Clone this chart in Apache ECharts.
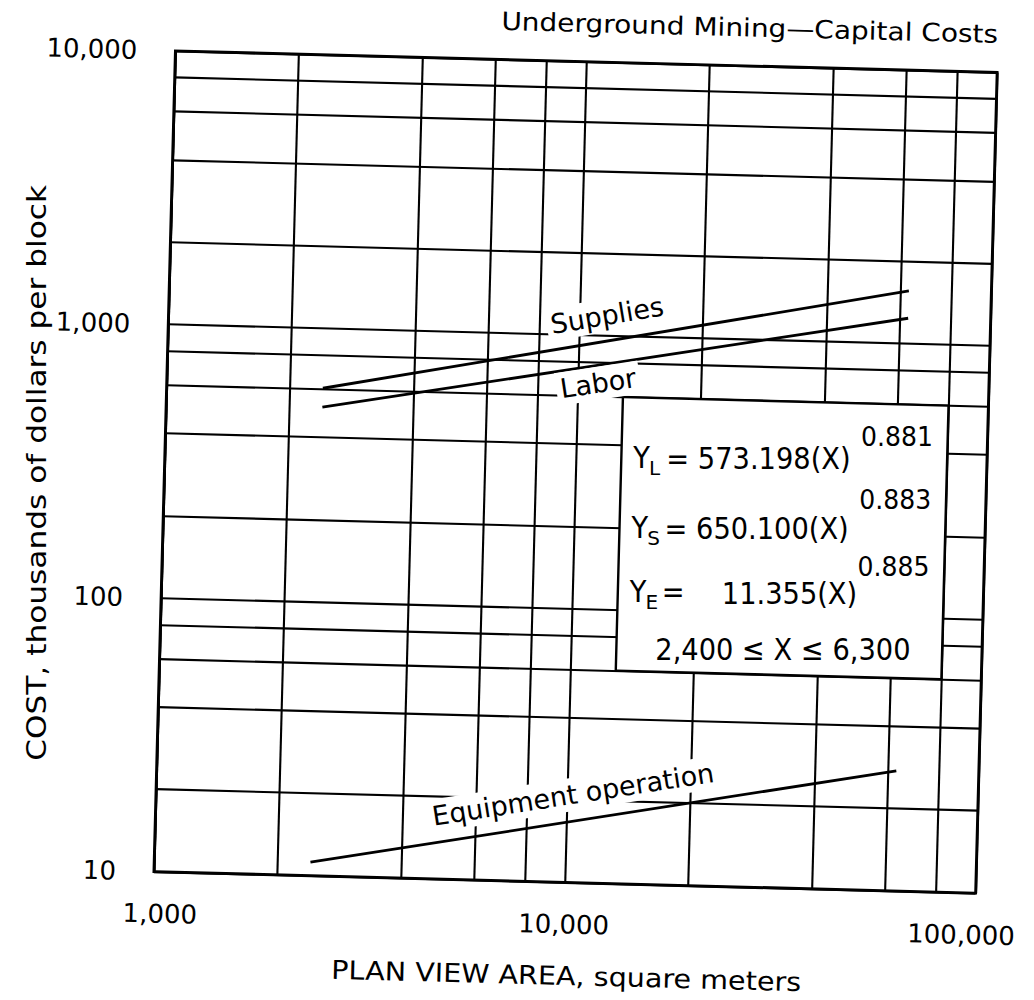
<!DOCTYPE html>
<html>
<head>
<meta charset="utf-8">
<script src="https://cdn.jsdelivr.net/npm/echarts@6/dist/echarts.min.js"></script>
<style>
  html, body { margin: 0; padding: 0; background: #fff; overflow: hidden; }
  /* the printed sheet sits slightly tilted */
  #chart { width: 1034px; height: 1000px; transform: rotate(1.5deg); transform-origin: 575.5px 472px; }
</style>
</head>
<body>
<div id="chart"></div>
<script>
// Plan view area (m²) at the ends of each fitted cost line
const areaX = [2400, 63000];
// Cost, thousands of dollars per block
const supplies = [605, 1560];
const labor = [516, 1240];
const equipment = [11.2, 27.5];

// Axis ranges and ruling of the log-log sheet
const xRange = [1000, 100000];
const yRange = [10, 10000];
const xRuling = [2000, 4000, 6000, 8000, 20000, 40000, 60000, 80000];
const yRuling = [20, 40, 60, 80, 200, 400, 600, 800, 2000, 4000, 6000, 8000];

// Regression block
const fitLines = [
  { sub: 'L', coef: '573.198(X)', exp: '0.881' },
  { sub: 'S', coef: '650.100(X)', exp: '0.883' },
  { sub: 'E', coef: '11.355(X)', exp: '0.885' }
];
const fitRange = '2,400 \u2264 X \u2264 6,300';

const FONT = '"DejaVu Sans", "Liberation Sans", sans-serif';
const TILT = 1.5 * Math.PI / 180;
const fmt = v => Math.round(v).toLocaleString('en-US');

const chart = echarts.init(document.getElementById('chart'), null, { renderer: 'svg', width: 1034, height: 1000 });

const ruling = [];
xRuling.forEach(v => ruling.push({ coords: [[v, yRange[0]], [v, yRange[1]]] }));
yRuling.forEach(v => ruling.push({ coords: [[xRange[0], v], [xRange[1], v]] }));

const pair = ys => areaX.map((x, i) => [x, ys[i]]);
const costLine = (name, ys) => ({
  type: 'line', name, data: pair(ys), symbol: 'none', z: 5,
  lineStyle: { color: '#000', width: 2.8 }, silent: true
});

chart.setOption({
  animation: false,
  backgroundColor: '#fff',
  grid: {
    left: 164.5, top: 61.5, width: 822, height: 821,
    outerBoundsMode: 'none', containLabel: false,
    show: true, borderColor: '#000', borderWidth: 2.8, backgroundColor: 'transparent'
  },
  xAxis: {
    type: 'log', logBase: 10, min: xRange[0], max: xRange[1],
    axisLine: { show: false }, axisTick: { show: false },
    splitLine: { show: true, lineStyle: { color: '#000', width: 2.1 } },
    axisLabel: {
      margin: 29, color: '#000', fontFamily: FONT, fontSize: 26,
      formatter: v => {
        const key = v <= xRange[0] ? 'lo' : (v >= xRange[1] ? 'hi' : 'mid');
        return '{' + key + '|' + fmt(v) + '}';
      },
      rich: {
        lo: { fontFamily: FONT, fontSize: 26, color: '#000', lineHeight: 26, padding: [0, 0, 0, 14] },
        mid: { fontFamily: FONT, fontSize: 26, color: '#000', lineHeight: 26 },
        hi: { fontFamily: FONT, fontSize: 26, color: '#000', lineHeight: 26, padding: [0, 27, 0, 0] }
      }
    }
  },
  yAxis: {
    type: 'log', logBase: 10, min: yRange[0], max: yRange[1],
    axisLine: { show: false }, axisTick: { show: false },
    splitLine: { show: true, lineStyle: { color: '#000', width: 2.1 } },
    axisLabel: { margin: 38, color: '#000', fontFamily: FONT, fontSize: 26, formatter: v => fmt(v) }
  },
  series: [
    {
      type: 'lines', coordinateSystem: 'cartesian2d', data: ruling, silent: true, z: 1,
      lineStyle: { color: '#000', width: 2.1, opacity: 1 }
    },
    costLine('Supplies', supplies),
    costLine('Labor', labor),
    costLine('Equipment operation', equipment)
  ]
});

const toPx = (x, y) => chart.convertToPixel({ gridIndex: 0 }, [x, y]);

// text label laid along a cost line, lifted off it by `offset` pixels
function lineLabel(text, ys, atX, offset) {
  const p0 = toPx(areaX[0], ys[0]);
  const p1 = toPx(areaX[1], ys[1]);
  const ang = Math.atan2(p1[1] - p0[1], p1[0] - p0[0]);
  const px = toPx(atX, 1)[0];
  const t = (px - p0[0]) / (p1[0] - p0[0]);
  const py = p0[1] + t * (p1[1] - p0[1]);
  return {
    type: 'text', x: px, y: py + offset, rotation: -ang, z: 50,
    style: {
      text, fontFamily: FONT, fontSize: 27, fill: '#000',
      align: 'center', verticalAlign: 'middle',
      backgroundColor: '#fff', padding: [3, 4]
    }
  };
}

function plain(text, x, y, size, opts, align) {
  return Object.assign({
    type: 'text', x, y, z: 60,
    style: { text, fontFamily: FONT, fontSize: size, fill: '#000', align: align || 'left', verticalAlign: 'middle' }
  }, opts || {});
}

const boxTL = toPx(12900, 600);
const boxBR = toPx(80000, 60);
const bx = boxTL[0], by = boxTL[1];
const level = { rotation: TILT };
const narrow = { rotation: TILT, scaleX: 0.88 };

const elements = [
  // title and axis names
  plain('Underground Mining\u2014Capital Costs', 986.5, 23, 25, { scaleX: 1.12 }, 'right'),
  plain('PLAN VIEW AREA, square meters', 579.4, 976, 26, { scaleX: 1.1 }, 'center'),
  plain('COST, thousands of dollars per block', 37.2, 487, 26, { rotation: Math.PI / 2 + TILT, scaleX: 1.2 }, 'center'),
  // line labels
  lineLabel('Supplies', supplies, 11660, -26),
  lineLabel('Labor', labor, 11200, 18),
  lineLabel('Equipment operation', equipment, 10340, -27),
  // regression block
  {
    type: 'rect', z: 40,
    shape: { x: bx, y: by, width: boxBR[0] - bx, height: boxBR[1] - by },
    style: { fill: '#fff', stroke: '#000', lineWidth: 2.4 }
  }
];

const rowBase = [69, 139, 203];
const expBase = [41, 104, 171];
fitLines.forEach((f, i) => {
  const b = by + rowBase[i];
  elements.push(plain('Y', bx + 12, b - 9.3, 31, narrow));
  elements.push(plain(f.sub, bx + 28, b + 1, 20, level));
  if (i < 2) {
    elements.push(plain('= ' + f.coef, bx + 45, b - 9.3, 31, narrow));
  } else {
    elements.push(plain('=', bx + 44, b - 9.3, 31, narrow));
    elements.push(plain(f.coef, bx + 104, b - 9.3, 31, narrow));
  }
  elements.push(plain(f.exp, bx + 239, by + expBase[i] - 8.1, 27, { rotation: TILT, scaleX: 0.93 }));
});
elements.push(plain(fitRange, bx + 39, by + 261 - 9.3, 31, narrow));

chart.setOption({ graphic: { elements } });
</script>
</body>
</html>
